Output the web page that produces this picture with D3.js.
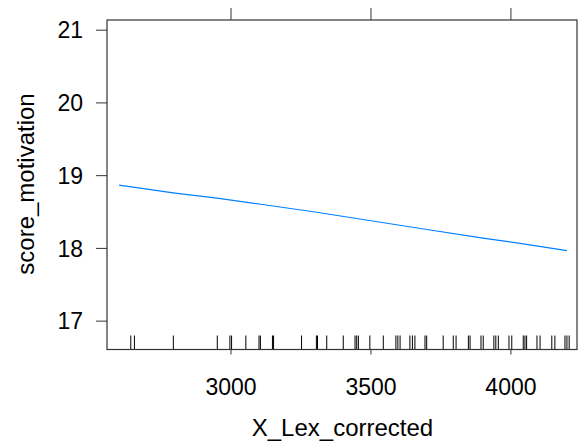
<!DOCTYPE html>
<html><head><meta charset="utf-8">
<script src="https://cdn.jsdelivr.net/npm/d3@7"></script>
<style>body{margin:0;background:#fff}svg{display:block}text{font-family:"Liberation Sans",Arial,sans-serif;fill:#000}</style>
</head><body><svg id="c" width="578" height="443"></svg>
<script>
const lineX = [2600, 2800, 2950, 3100, 3300, 3500, 3700, 3900, 4050, 4200];
const lineY = [18.87, 18.76, 18.69, 18.61, 18.50, 18.38, 18.26, 18.14, 18.06, 17.97];
const rugX = [2642,2655,2794,2951,2996,3002,3053,3100,3105,3148,3152,3252,3305,3309,3342,3401,3443,3449,3455,3496,3544,3589,3596,3604,3639,3648,3657,3693,3699,3758,3794,3804,3848,3854,3893,3901,3939,3946,3955,3993,4003,4044,4050,4056,4093,4104,4146,4157,4193,4200,4208];
const xTicks = [3000, 3500, 4000];
const yTicks = [17, 18, 19, 20, 21];

const L = 107, R = 577, T = 20, B = 349.5;
const svg = d3.select("#c");
const x = d3.scaleLinear().domain([2557, 4236]).range([L, R]);
const y = d3.scaleLinear().domain([16.61, 21.14]).range([B, T]);
const font = "Liberation Sans, Arial, sans-serif";

// y axis
svg.append("g").selectAll("line").data(yTicks).join("line")
  .attr("x1", L - 11).attr("x2", L).attr("y1", d => y(d)).attr("y2", d => y(d)).attr("stroke", "#333");
svg.append("g").selectAll("text").data(yTicks).join("text")
  .attr("x", 83).attr("y", d => y(d)).attr("dy", "0.36em").attr("text-anchor", "end")
  .style("font-size", "23px").style("font-family", font).text(d3.format("d"));

// top ticks
svg.append("g").selectAll("line").data(xTicks).join("line")
  .attr("x1", d => x(d)).attr("x2", d => x(d)).attr("y1", T - 12).attr("y2", T).attr("stroke", "#333");

// bottom ticks + labels
svg.append("g").selectAll("line").data(xTicks).join("line")
  .attr("x1", d => x(d)).attr("x2", d => x(d)).attr("y1", B).attr("y2", B + 5).attr("stroke", "#333");
svg.append("g").selectAll("text").data(xTicks).join("text")
  .attr("x", d => x(d)).attr("y", 395).attr("text-anchor", "middle")
  .style("font-size", "23px").style("font-family", font).text(d3.format("d"));

// rug
svg.append("g").selectAll("line").data(rugX).join("line")
  .attr("x1", d => x(d)).attr("x2", d => x(d))
  .attr("y1", B - 14).attr("y2", B)
  .attr("stroke", "#000").attr("stroke-width", 1);

// frame
svg.append("rect").attr("x", L).attr("y", T).attr("width", R - L).attr("height", B - T)
  .attr("fill", "none").attr("stroke", "#333").attr("stroke-width", 1.2);

// line
svg.append("path").datum(lineX.map((d, i) => [d, lineY[i]]))
  .attr("fill", "none").attr("stroke", "#0080ff").attr("stroke-width", 1.2)
  .attr("d", d3.line().x(d => x(d[0])).y(d => y(d[1])));

// titles
svg.append("text").attr("x", 342.5).attr("y", 436).attr("text-anchor", "middle")
  .style("font-size", "24px").style("font-family", font).text("X_Lex_corrected");
svg.append("text").attr("transform", `translate(34,184) rotate(-90)`).attr("text-anchor", "middle")
  .style("font-size", "24px").style("font-family", font).text("score_motivation");
</script></body></html>
